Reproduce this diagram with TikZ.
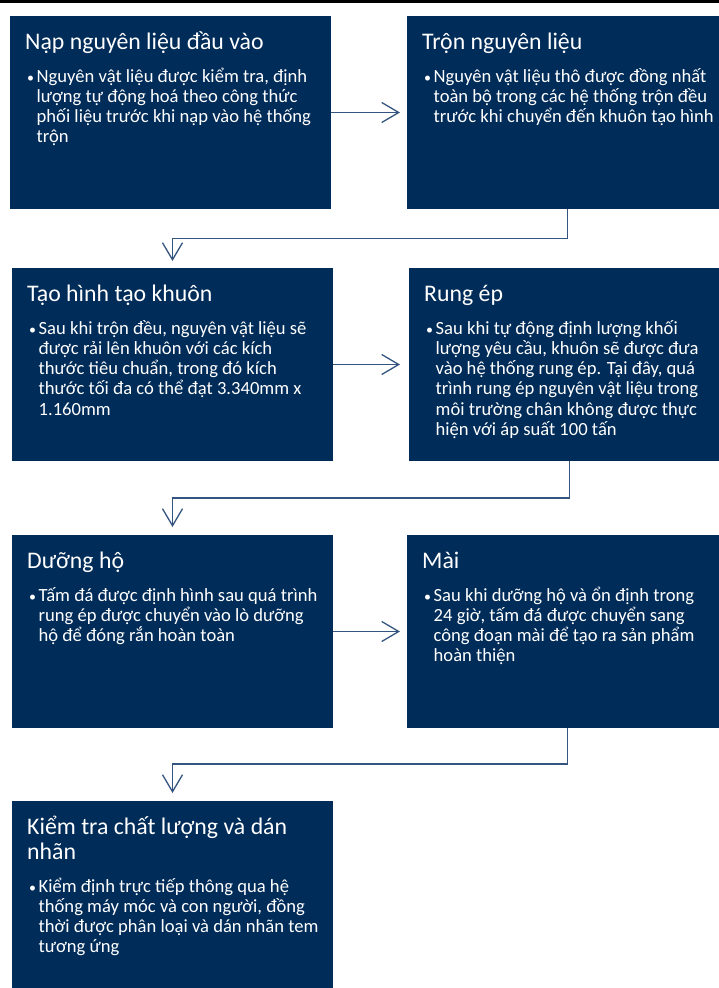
\documentclass[tikz,border=0pt]{standalone}
\usepackage{fontspec}
\setmainfont{Carlito}
\usetikzlibrary{arrows.meta,calc}
\definecolor{boxfill}{HTML}{002C59}
\definecolor{linec}{HTML}{34557F}
\newcommand{\titletext}[1]{\parbox[t]{330pt}{\fontsize{23.8pt}{25pt}\selectfont #1}}
\newcommand{\bodytext}[1]{\parbox[t]{330pt}{\fontsize{18.6pt}{20.3pt}\selectfont\hangindent=10.5pt\hangafter=1\noindent\makebox[10.5pt][l]{\hspace{1pt}\scalebox{0.75}{\textbullet}}#1}}
\tikzset{
  stepbox/.style={fill=boxfill, draw=none, minimum width=321pt, minimum height=193pt, inner sep=0pt, outer sep=0pt, anchor=north west},
  ttl/.style={anchor=base west, inner sep=0pt, text=white},
  bdy/.style={anchor=base west, inner sep=0pt, text=white},
  conn/.style={draw=linec, line width=1.3pt, -{Straight Barb[length=17pt,width=20pt]}}
}
\begin{document}
\begin{tikzpicture}[x=1pt,y=1pt]
\useasboundingbox (0,0) rectangle (719,-988);
\clip (0,0) rectangle (719,-988);
\fill[black] (0,0) rectangle (719,-2.7);
% boxes
\node[stepbox] (b1) at (10,-16) {};
\node[stepbox] (b2) at (407,-16) {};
\node[stepbox] (b3) at (12,-268) {};
\node[stepbox] (b4) at (409,-268) {};
\node[stepbox] (b5) at (12,-535) {};
\node[stepbox] (b6) at (407,-535) {};
\node[stepbox] (b7) at (12,-801) {};
% texts
\node[ttl] (t1) at ($(b1.north west)+(15,-33)$) {\titletext{Nạp nguyên liệu đầu vào}};
\node[bdy] (d1) at ($(b1.north west)+(16,-66)$) {\bodytext{Nguyên vật liệu được kiểm tra, định\\lượng tự động hoá theo công thức\\phối liệu trước khi nạp vào hệ thống\\trộn}};
\node[ttl] (t2) at ($(b2.north west)+(15,-33)$) {\titletext{Trộn nguyên liệu}};
\node[bdy] (d2) at ($(b2.north west)+(16,-66)$) {\bodytext{Nguyên vật liệu thô được đồng nhất\\toàn bộ trong các hệ thống trộn đều\\trước khi chuyển đến khuôn tạo hình}};
\node[ttl] (t3) at ($(b3.north west)+(15,-33)$) {\titletext{Tạo hình tạo khuôn}};
\node[bdy] (d3) at ($(b3.north west)+(16,-66)$) {\bodytext{Sau khi trộn đều, nguyên vật liệu sẽ\\được rải lên khuôn với các kích\\thước tiêu chuẩn, trong đó kích\\thước tối đa có thể đạt 3.340mm x\\1.160mm}};
\node[ttl] (t4) at ($(b4.north west)+(15,-33)$) {\titletext{Rung ép}};
\node[bdy] (d4) at ($(b4.north west)+(16,-66)$) {\bodytext{Sau khi tự động định lượng khối\\lượng yêu cầu, khuôn sẽ được đưa\\vào hệ thống rung ép. Tại đây, quá\\trình rung ép nguyên vật liệu trong\\môi trường chân không được thực\\hiện với áp suất 100 tấn}};
\node[ttl] (t5) at ($(b5.north west)+(15,-33)$) {\titletext{Dưỡng hộ}};
\node[bdy] (d5) at ($(b5.north west)+(16,-66)$) {\bodytext{Tấm đá được định hình sau quá trình\\rung ép được chuyển vào lò dưỡng\\hộ để đóng rắn hoàn toàn}};
\node[ttl] (t6) at ($(b6.north west)+(15,-33)$) {\titletext{Mài}};
\node[bdy] (d6) at ($(b6.north west)+(16,-66)$) {\bodytext{Sau khi dưỡng hộ và ổn định trong\\24 giờ, tấm đá được chuyển sang\\công đoạn mài để tạo ra sản phẩm\\hoàn thiện}};
\node[ttl] (t7) at ($(b7.north west)+(15,-33)$) {\titletext{Kiểm tra chất lượng và dán\\nhãn}};
\node[bdy] (d7) at ($(b7.north west)+(16,-91)$) {\bodytext{Kiểm định trực tiếp thông qua hệ\\thống máy móc và con người, đồng\\thời được phân loại và dán nhãn tem\\tương ứng}};
% connectors
\draw[conn] (b1.east) -- ([xshift=-7pt]b2.west);
\draw[conn] (b2.south) -- ++(0,-29.5) -| ([yshift=7pt]b3.north);
\draw[conn] (b3.east) -- ([xshift=-9pt]b4.west);
\draw[conn] (b4.south) -- ++(0,-37) -| ([yshift=8pt]b5.north);
\draw[conn] (b5.east) -- ([xshift=-7pt]b6.west);
\draw[conn] (b6.south) -- ++(0,-36) -| ([yshift=8pt]b7.north);
\end{tikzpicture}
\end{document}
